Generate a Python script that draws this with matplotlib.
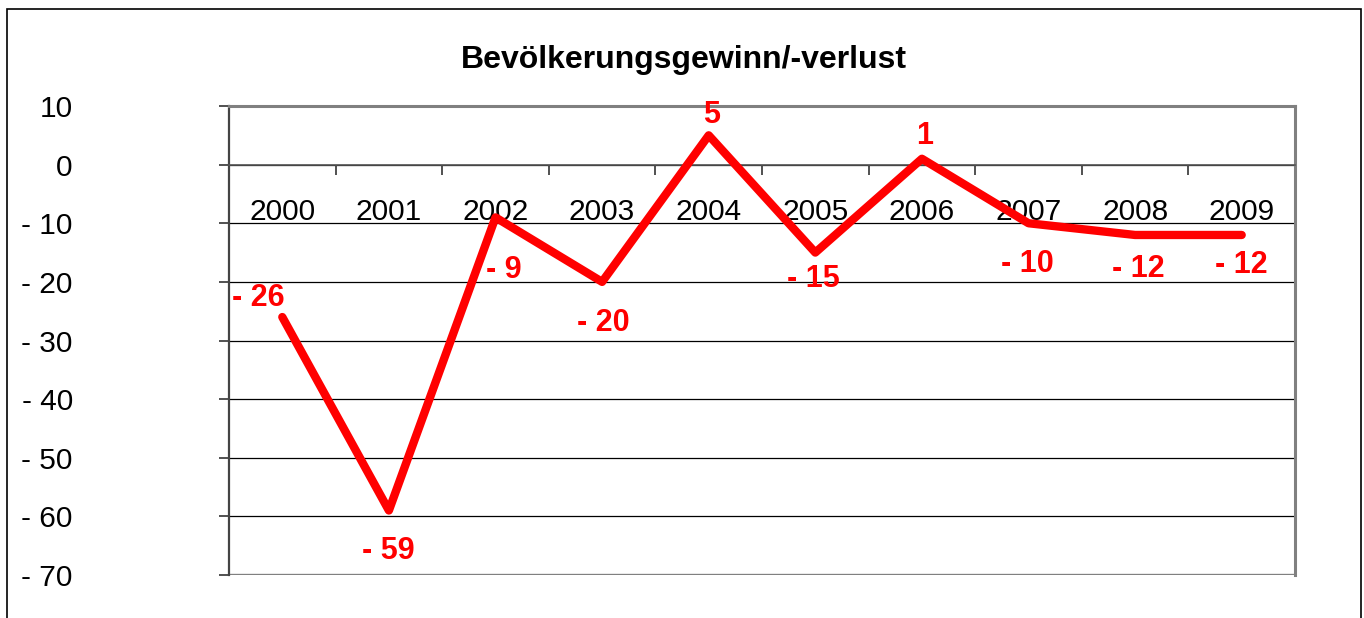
import matplotlib
matplotlib.use('Agg')
import matplotlib.pyplot as plt
from matplotlib.patches import Rectangle
from matplotlib.ticker import FixedLocator, FuncFormatter

## data
years = ['2000', '2001', '2002', '2003', '2004', '2005', '2006', '2007', '2008', '2009']
values = [-26, -59, -9, -20, 5, -15, 1, -10, -12, -12]
# label offsets in pixels (dx, dy) relative to the point
label_offsets = [(-24, 19), (-1, -40), (8, -53), (1, -41), (3, 20),
                 (-2, -26), (3, 23), (-1, -41), (3, -34), (0, -30)]

plt.rcParams['font.family'] = ['Liberation Sans', 'DejaVu Sans']

fig = plt.figure(figsize=(13.64, 6.18), dpi=100)

## outer chart border (runs off the bottom like in the source)
fig.patches.append(Rectangle((7 / 1364, -0.05), (1361 - 7) / 1364, 1 - 9 / 618 + 0.05,
                             transform=fig.transFigure, fill=False,
                             edgecolor='black', linewidth=1.2, clip_on=False))

ax = fig.add_axes([229 / 1364, 1 - 575 / 618, (1295 - 229) / 1364, (575 - 106) / 618])

xs = list(range(len(years)))
ax.plot(xs, values, color='#ff0000', linewidth=6, solid_capstyle='round',
        solid_joinstyle='round', zorder=5)

for x, v, (dx, dy) in zip(xs, values, label_offsets):
    txt = str(v) if v >= 0 else '- ' + str(-v)
    ax.annotate(txt, (x, v), xytext=(dx, dy), textcoords='offset pixels',
                ha='center', va='center', color='#ff0000', fontsize=22,
                fontweight='bold', zorder=6)

## y axis
ax.set_ylim(-70, 10)
ax.set_yticks(range(-70, 11, 10))
ax.yaxis.set_major_formatter(FuncFormatter(lambda v, p: '%d' % v if v >= 0 else '- %d' % -v))
ax.tick_params(axis='y', direction='out', length=7.5, width=1.2, color='#333333',
               labelsize=21.5, pad=105)
for y in range(-60, 11, 10):
    ax.axhline(y, color='black', linewidth=0.9, zorder=1)

## x axis crossing at zero
ax.set_xlim(-0.5, 9.5)
ax.spines['bottom'].set_position(('data', 0))
ax.spines['bottom'].set_color('#555555')
ax.spines['bottom'].set_linewidth(1.2)
ax.xaxis.set_major_locator(FixedLocator([i + 0.5 for i in range(-1, 10)]))
ax.xaxis.set_major_formatter(FuncFormatter(lambda v, p: ''))
ax.xaxis.set_minor_locator(FixedLocator(xs))
ax.xaxis.set_minor_formatter(FuncFormatter(lambda v, p: years[int(round(v))]))
ax.tick_params(axis='x', which='major', direction='out', length=7, width=1.2, color='#333333')
ax.tick_params(axis='x', which='minor', length=0, labelsize=21.5, pad=24)

## plot area frame
ax.axhline(-70, color='#808080', linewidth=2.4, zorder=2)
ax.spines['top'].set_color('#808080')
ax.spines['top'].set_linewidth(2.2)
ax.spines['right'].set_color('#808080')
ax.spines['right'].set_linewidth(2.2)
ax.spines['left'].set_color('#444444')
ax.spines['left'].set_linewidth(1.6)

fig.text(684 / 1364, 1 - 60 / 618, 'Bevölkerungsgewinn/-verlust', ha='center', va='center',
         fontsize=23, fontweight='bold')

fig.savefig('out.png', dpi=100)
